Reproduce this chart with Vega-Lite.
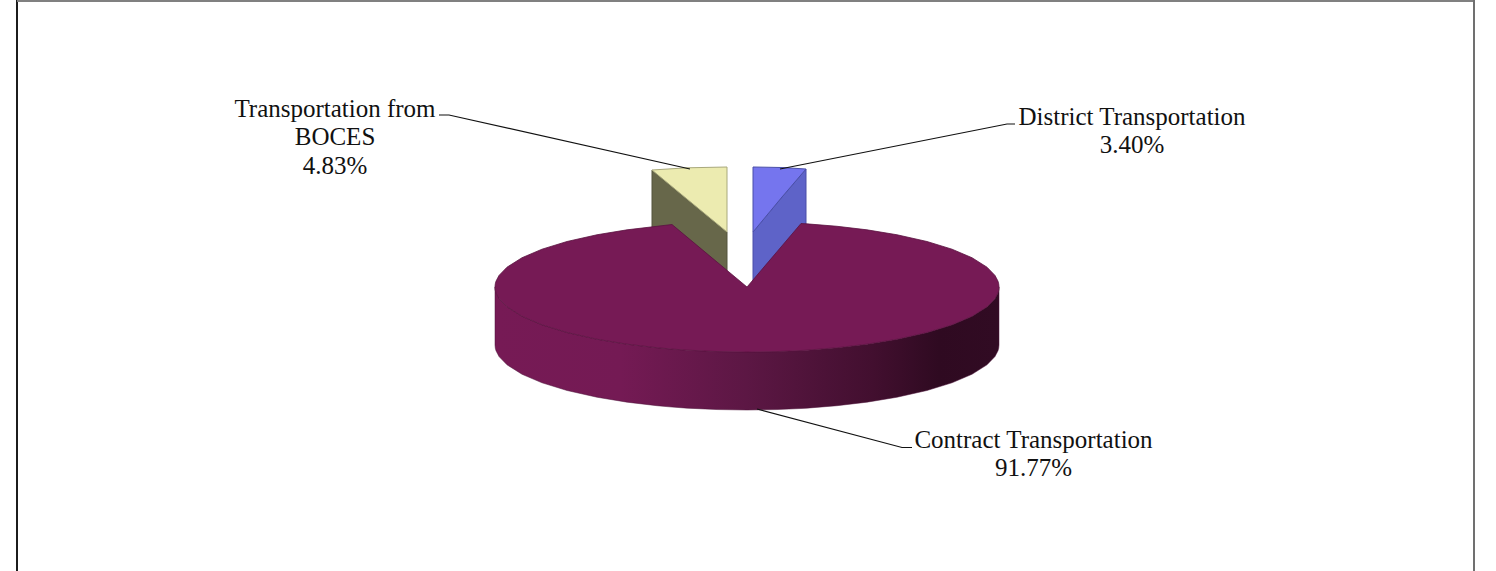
{
  "$schema": "https://vega.github.io/schema/vega-lite/v6.json",
  "width": 1496,
  "height": 571,
  "padding": 0,
  "autosize": "none",
  "background": "white",
  "config": {"view": {"stroke": null}},
  "datasets": {
    "disc": [
      {"x": -252, "rim": 0, "front": 0, "base": -58},
      {"x": -251.7, "rim": 3.17, "front": -3.17, "base": -61.17},
      {"x": -251, "rim": 5.79, "front": -5.79, "base": -63.79},
      {"x": -248, "rim": 11.54, "front": -11.54, "base": -69.54},
      {"x": -240, "rim": 19.81, "front": -19.81, "base": -77.81},
      {"x": -225, "rim": 29.27, "front": -29.27, "base": -87.27},
      {"x": -205, "rim": 37.8, "front": -37.8, "base": -95.8},
      {"x": -180, "rim": 45.49, "front": -45.49, "base": -103.49},
      {"x": -150, "rim": 52.23, "front": -52.23, "base": -110.23},
      {"x": -120, "rim": 57.16, "front": -57.16, "base": -115.16},
      {"x": -90, "rim": 60.71, "front": -60.71, "base": -118.71},
      {"x": -75, "rim": 62.5, "front": -62.05, "base": -120.05},
      {"x": -60, "rim": 50, "front": -63.13, "base": -121.13},
      {"x": -30, "rim": 25, "front": -64.54, "base": -122.54},
      {"x": 0, "rim": 0, "front": -65, "base": -123},
      {"x": 30, "rim": 35.3, "front": -64.54, "base": -122.54},
      {"x": 54, "rim": 63.5, "front": -63.5, "base": -121.5},
      {"x": 60, "rim": 63.13, "front": -63.13, "base": -121.13},
      {"x": 90, "rim": 60.71, "front": -60.71, "base": -118.71},
      {"x": 120, "rim": 57.16, "front": -57.16, "base": -115.16},
      {"x": 150, "rim": 52.23, "front": -52.23, "base": -110.23},
      {"x": 180, "rim": 45.49, "front": -45.49, "base": -103.49},
      {"x": 205, "rim": 37.8, "front": -37.8, "base": -95.8},
      {"x": 225, "rim": 29.27, "front": -29.27, "base": -87.27},
      {"x": 240, "rim": 19.81, "front": -19.81, "base": -77.81},
      {"x": 248, "rim": 11.54, "front": -11.54, "base": -69.54},
      {"x": 251, "rim": 5.79, "front": -5.79, "base": -63.79},
      {"x": 251.7, "rim": 3.17, "front": -3.17, "base": -61.17},
      {"x": 252, "rim": 0, "front": 0, "base": -58}
    ],
    "boces": [
      {"x": -95, "rim": 117, "cut": 117, "floor": 50},
      {"x": -60, "rim": 119.2, "cut": 88, "floor": 32},
      {"x": -20, "rim": 120, "cut": 55, "floor": 10}
    ],
    "district": [
      {"x": 6, "rim": 120, "cut": 55, "floor": 2},
      {"x": 35, "rim": 119.5, "cut": 90, "floor": 30},
      {"x": 59, "rim": 118, "cut": 118, "floor": 60}
    ],
    "leaders": [
      {"slice": "BOCES", "step": 1, "x": -308, "y": 172},
      {"slice": "BOCES", "step": 2, "x": -298, "y": 172},
      {"slice": "BOCES", "step": 3, "x": -57, "y": 118},
      {"slice": "District", "step": 1, "x": 268, "y": 163},
      {"slice": "District", "step": 2, "x": 260, "y": 163},
      {"slice": "District", "step": 3, "x": 33, "y": 118},
      {"slice": "Contract", "step": 1, "x": 165, "y": -160.5},
      {"slice": "Contract", "step": 2, "x": 155, "y": -160.5},
      {"slice": "Contract", "step": 3, "x": 10, "y": -122}
    ],
    "slices": [
      {"name": "Transportation from\nBOCES", "share": 4.83, "x": -412, "y": 178.5},
      {"name": "District Transportation", "share": 3.4, "x": 385, "y": 170.5},
      {"name": "Contract Transportation", "share": 91.77, "x": 286.5, "y": -152.5}
    ],
    "frame": [
      {"edge": "left", "x": -730, "x2": -730, "y": 287, "y2": -284},
      {"edge": "top", "x": -730, "x2": 727, "y": 286, "y2": 286},
      {"edge": "right", "x": 727, "x2": 727, "y": 287, "y2": -284}
    ]
  },
  "encoding": {
    "x": {"field": "x", "type": "quantitative", "axis": null, "scale": {"domain": [-747, 749], "nice": false, "zero": false}},
    "y": {"field": "y", "type": "quantitative", "axis": null, "scale": {"domain": [-284, 287], "nice": false, "zero": false}}
  },
  "layer": [
    {
      "data": {"name": "frame"},
      "mark": {"type": "rule", "strokeWidth": 2},
      "encoding": {
        "x2": {"field": "x2"},
        "y2": {"field": "y2"},
        "color": {"field": "edge", "type": "nominal", "legend": null, "scale": {"domain": ["left", "top", "right"], "range": ["#1c1c1c", "#808080", "#707070"]}}
      }
    },
    {
      "data": {"name": "boces"},
      "mark": {"type": "area", "fill": "#67674a", "stroke": "#55553c", "strokeWidth": 1},
      "encoding": {"y": {"field": "cut", "type": "quantitative"}, "y2": {"field": "floor"}}
    },
    {
      "data": {"name": "boces"},
      "mark": {"type": "area", "fill": "#ecebb0", "stroke": "#a9a97c", "strokeWidth": 1},
      "encoding": {"y": {"field": "rim", "type": "quantitative"}, "y2": {"field": "cut"}}
    },
    {
      "data": {"name": "district"},
      "mark": {"type": "area", "fill": "#5e63c8", "stroke": "#4a4fa8", "strokeWidth": 1},
      "encoding": {"y": {"field": "cut", "type": "quantitative"}, "y2": {"field": "floor"}}
    },
    {
      "data": {"name": "district"},
      "mark": {"type": "area", "fill": "#7575ee", "stroke": "#4a4fa8", "strokeWidth": 1},
      "encoding": {"y": {"field": "rim", "type": "quantitative"}, "y2": {"field": "cut"}}
    },
    {
      "data": {"name": "disc"},
      "mark": {
        "type": "area",
        "fill": {
          "gradient": "linear", "x1": 0, "y1": 0, "x2": 1, "y2": 0,
          "stops": [
            {"offset": 0, "color": "#761a55"},
            {"offset": 0.25, "color": "#741a54"},
            {"offset": 0.5, "color": "#5c1744"},
            {"offset": 0.75, "color": "#420f2f"},
            {"offset": 0.88, "color": "#2f0a21"},
            {"offset": 1, "color": "#310b23"}
          ]
        },
        "stroke": "#4c1238",
        "strokeWidth": 0.5
      },
      "encoding": {"y": {"field": "front", "type": "quantitative"}, "y2": {"field": "base"}}
    },
    {
      "data": {"name": "disc"},
      "mark": {"type": "area", "fill": "#761a55", "stroke": "#5a1240", "strokeWidth": 0.8},
      "encoding": {"y": {"field": "rim", "type": "quantitative"}, "y2": {"field": "front"}}
    },
    {
      "data": {"name": "leaders"},
      "mark": {"type": "line", "color": "#111111", "strokeWidth": 1.2},
      "encoding": {"detail": {"field": "slice"}, "order": {"field": "step"}}
    },
    {
      "data": {"name": "slices"},
      "transform": [{"calculate": "datum.name + '\\n' + format(datum.share, '.2f') + '%'", "as": "label"}],
      "mark": {"type": "text", "font": "Liberation Serif", "fontSize": 25, "lineHeight": 28.6, "lineBreak": "\n", "align": "center", "baseline": "middle", "color": "#111111"},
      "encoding": {"text": {"field": "label"}}
    }
  ]
}
